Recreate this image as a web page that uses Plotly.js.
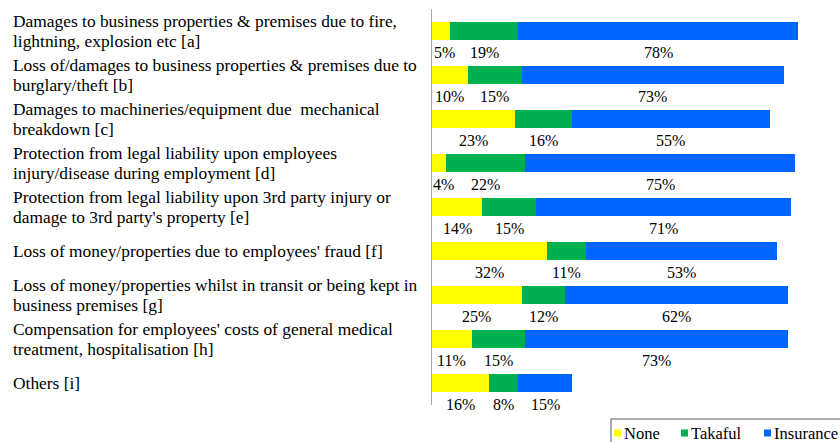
<!DOCTYPE html>
<html>
<head>
<meta charset="utf-8">
<script src="https://cdn.plot.ly/plotly-3.0.1.min.js"></script>
<style>
html,body{margin:0;padding:0;background:#fff;}
#chart{width:840px;height:442px;}
</style>
</head>
<body>
<div id="chart"></div>
<script>
// ---- data ----
var categories = [
  "Damages to business properties & premises due to fire,<br>lightning, explosion etc [a]",
  "Loss of/damages to business properties & premises due to<br>burglary/theft [b]",
  "Damages to machineries/equipment due\u00a0 mechanical<br>breakdown [c]",
  "Protection from legal liability upon employees<br>injury/disease during employment [d]",
  "Protection from legal liability upon 3rd party injury or<br>damage to 3rd party's property [e]",
  "Loss of money/properties due to employees' fraud [f]",
  "Loss of money/properties whilst in transit or being kept in<br>business premises [g]",
  "Compensation for employees' costs of general medical<br>treatment, hospitalisation [h]",
  "Others [i]"
];
var seriesNames = ["None", "Takaful", "Insurance"];
var noneVals = [5, 10, 23, 4, 14, 32, 25, 11, 16];
var takafulVals = [19, 15, 16, 22, 15, 11, 12, 15, 8];
var insuranceVals = [78, 73, 55, 75, 71, 53, 62, 73, 15];

// ---- styling ----
var colors = ["#FFFF00", "#00B050", "#0066FF"];
var FONT = "Liberation Serif";
var L = 432, R = 13, T = 9, B = 37, W = 840, H = 442;
var plotW = W - L - R, plotH = H - T - B;
function px(x) { return (x - L) / plotW; }
function py(y) { return (T + plotH - y) / plotH; }

var series = [noneVals, takafulVals, insuranceVals];
var traces = series.map(function (vals, k) {
  return {
    type: "bar",
    orientation: "h",
    name: seriesNames[k],
    x: vals,
    y: categories,
    marker: { color: colors[k], line: { width: 0 } },
    hoverinfo: "x+name",
    showlegend: false
  };
});

var annotations = [];
// value labels below each segment
categories.forEach(function (cat, i) {
  var cum = 0;
  series.forEach(function (vals, k) {
    var v = vals[i];
    annotations.push({
      x: cum + v / 2, y: cat, xref: "x", yref: "y",
      text: v + "%", showarrow: false, yshift: -21,
      xshift: (k === 0 && v < 8) ? 4 : 0,
      xanchor: "center", yanchor: "middle",
      font: { family: FONT, size: 16, color: "#000" }
    });
    cum += v;
  });
});
// category labels, left aligned
categories.forEach(function (cat, i) {
  var lines = cat.split("<br>");
  var n = lines.length;
  lines.forEach(function (ln, j) {
    annotations.push({
      x: px(11), y: cat, xref: "paper", yref: "y",
      text: ln, showarrow: false, xanchor: "left", yanchor: "middle",
      yshift: -((j - (n - 1) / 2) * 19.2),
      font: { family: FONT, size: 17.4, color: "#000" }
    });
  });
});

// legend (drawn manually to match the compact spacing)
var shapes = [{
  type: "rect", xref: "paper", yref: "paper",
  x0: px(611), x1: px(848), y0: py(419), y1: py(448),
  line: { color: "#595959", width: 1 }, fillcolor: "rgba(0,0,0,0)"
}];
var legendX = [614, 681, 764];
seriesNames.forEach(function (nm, k) {
  shapes.push({
    type: "rect", xref: "paper", yref: "paper",
    x0: px(legendX[k]), x1: px(legendX[k] + 7), y0: py(429.5), y1: py(436.5),
    line: { width: 0 }, fillcolor: colors[k]
  });
  annotations.push({
    x: px(legendX[k] + 8), y: py(433), xref: "paper", yref: "paper",
    text: nm, showarrow: false, xanchor: "left", yanchor: "middle",
    font: { family: FONT, size: 16.5, color: "#000" }
  });
});

var layout = {
  width: W, height: H,
  margin: { l: L, r: R, t: T, b: B, pad: 0 },
  paper_bgcolor: "#fff", plot_bgcolor: "#fff",
  barmode: "stack",
  bargap: 0.59,
  showlegend: false,
  xaxis: { range: [0, 110], autorange: false, visible: false, fixedrange: true },
  yaxis: {
    type: "category", range: [categories.length - 0.5, -0.5], autorange: false,
    showticklabels: false, ticks: "", showgrid: false, zeroline: false,
    showline: true, linecolor: "#A6A6A6", linewidth: 1.5, fixedrange: true
  },
  font: { family: FONT, size: 16, color: "#000" },
  annotations: annotations,
  shapes: shapes
};

Plotly.newPlot("chart", traces, layout, { displayModeBar: false, staticPlot: true });
</script>
</body>
</html>
